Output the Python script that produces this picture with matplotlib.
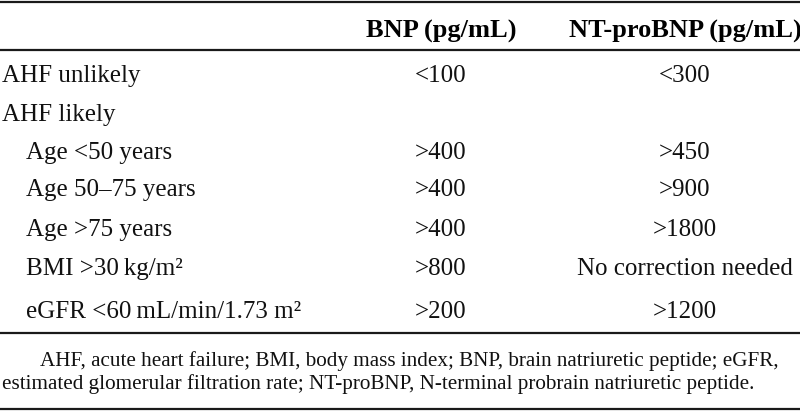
import matplotlib.pyplot as plt

# table content
col_headers = ['BNP (pg/mL)', 'NT-proBNP (pg/mL)']
row_labels = ['AHF unlikely', 'AHF likely', 'Age <50 years', 'Age 50\u201375 years',
              'Age >75 years', 'BMI >30\u2009kg/m\u00b2', 'eGFR <60\u2009mL/min/1.73 m\u00b2']
row_indent = [False, False, True, True, True, True, True]
bnp_values = ['<100', '', '>400', '>400', '>400', '>800', '>200']
ntprobnp_values = ['<300', '', '>450', '>900', '>1800', 'No correction needed', '>1200']
footnote = ['AHF, acute heart failure; BMI, body mass index; BNP, brain natriuretic peptide; eGFR,',
            'estimated glomerular filtration rate; NT-proBNP, N-terminal probrain natriuretic peptide.']

plt.rcParams['font.family'] = ['Liberation Serif', 'DejaVu Serif']

fig = plt.figure(figsize=(8, 4.12), dpi=100)
ax = fig.add_axes([0, 0, 1, 1])
ax.set_xlim(0, 800)
ax.set_ylim(412, 0)
ax.axis('off')

fs = 18
col_x = [441, 685]          # column centres
row_y = [82, 121, 159, 196, 236, 275, 318]   # baselines

# rules
for y in [2, 50, 333, 409]:
    ax.axhline(y, color='#1a1a1a', lw=1.6)

ax.text(col_x[0], 38, col_headers[0], ha='center', va='baseline', fontsize=19, fontweight='bold')
ax.text(col_x[1], 38, col_headers[1], ha='center', va='baseline', fontsize=19, fontweight='bold')

for i in range(len(row_labels)):
    x = 26 if row_indent[i] else 2
    ax.text(x, row_y[i], row_labels[i], ha='left', va='baseline', fontsize=fs, color='#111111')
    ax.text(col_x[0], row_y[i], bnp_values[i], ha='center', va='baseline', fontsize=fs, color='#111111')
    ax.text(col_x[1], row_y[i], ntprobnp_values[i], ha='center', va='baseline', fontsize=fs, color='#111111')

ax.text(40, 366, footnote[0], ha='left', va='baseline', fontsize=15.2, color='#111111')
ax.text(2, 389, footnote[1], ha='left', va='baseline', fontsize=15.2, color='#111111')

fig.savefig('out.png', dpi=100)
